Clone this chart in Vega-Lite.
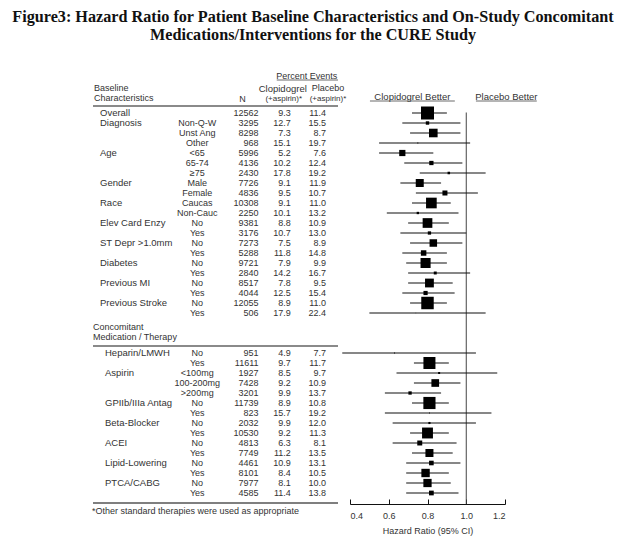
{
"$schema": "https://vega.github.io/schema/vega-lite/v6.json",
"autosize": {"type": "none"},
"padding": {"left": 93, "top": 60, "right": 0, "bottom": 46},
"width": 533,
"height": 444,
"background": "white",
"title": {"text": ["Figure3: Hazard Ratio for Patient Baseline Characteristics and On-Study Concomitant", "Medications/Interventions for the CURE Study"], "font": "Liberation Serif", "fontSize": 16.2, "fontWeight": "bold", "color": "#111", "anchor": "middle", "frame": "group", "dx": -46.5, "offset": 17, "lineHeight": 18},
"datasets": {
"rows": [
{"row": 1, "section": "B", "characteristic": "Overall", "subgroup": "", "n": 12562, "clopidogrel": 9.3, "placebo": 11.4, "hr": 0.80, "lo": 0.72, "hi": 0.90},
{"row": 2, "section": "B", "characteristic": "Diagnosis", "subgroup": "Non-Q-W", "n": 3295, "clopidogrel": 12.7, "placebo": 15.5, "hr": 0.80, "lo": 0.67, "hi": 0.97},
{"row": 3, "section": "B", "characteristic": "", "subgroup": "Unst Ang", "n": 8298, "clopidogrel": 7.3, "placebo": 8.7, "hr": 0.83, "lo": 0.71, "hi": 0.97},
{"row": 4, "section": "B", "characteristic": "", "subgroup": "Other", "n": 968, "clopidogrel": 15.1, "placebo": 19.7, "hr": 0.75, "lo": 0.55, "hi": 1.02},
{"row": 5, "section": "B", "characteristic": "Age", "subgroup": "<65", "n": 5996, "clopidogrel": 5.2, "placebo": 7.6, "hr": 0.67, "lo": 0.55, "hi": 0.83},
{"row": 6, "section": "B", "characteristic": "", "subgroup": "65-74", "n": 4136, "clopidogrel": 10.2, "placebo": 12.4, "hr": 0.82, "lo": 0.68, "hi": 0.98},
{"row": 7, "section": "B", "characteristic": "", "subgroup": "≥75", "n": 2430, "clopidogrel": 17.8, "placebo": 19.2, "hr": 0.91, "lo": 0.76, "hi": 1.10},
{"row": 8, "section": "B", "characteristic": "Gender", "subgroup": "Male", "n": 7726, "clopidogrel": 9.1, "placebo": 11.9, "hr": 0.76, "lo": 0.66, "hi": 0.87},
{"row": 9, "section": "B", "characteristic": "", "subgroup": "Female", "n": 4836, "clopidogrel": 9.5, "placebo": 10.7, "hr": 0.89, "lo": 0.74, "hi": 1.06},
{"row": 10, "section": "B", "characteristic": "Race", "subgroup": "Caucas", "n": 10308, "clopidogrel": 9.1, "placebo": 11.0, "hr": 0.82, "lo": 0.72, "hi": 0.92},
{"row": 11, "section": "B", "characteristic": "", "subgroup": "Non-Cauc", "n": 2250, "clopidogrel": 10.1, "placebo": 13.2, "hr": 0.75, "lo": 0.59, "hi": 0.96},
{"row": 12, "section": "B", "characteristic": "Elev Card Enzy", "subgroup": "No", "n": 9381, "clopidogrel": 8.8, "placebo": 10.9, "hr": 0.80, "lo": 0.70, "hi": 0.91},
{"row": 13, "section": "B", "characteristic": "", "subgroup": "Yes", "n": 3176, "clopidogrel": 10.7, "placebo": 13.0, "hr": 0.81, "lo": 0.66, "hi": 1.00},
{"row": 14, "section": "B", "characteristic": "ST Depr >1.0mm", "subgroup": "No", "n": 7273, "clopidogrel": 7.5, "placebo": 8.9, "hr": 0.83, "lo": 0.71, "hi": 0.98},
{"row": 15, "section": "B", "characteristic": "", "subgroup": "Yes", "n": 5288, "clopidogrel": 11.8, "placebo": 14.8, "hr": 0.78, "lo": 0.67, "hi": 0.90},
{"row": 16, "section": "B", "characteristic": "Diabetes", "subgroup": "No", "n": 9721, "clopidogrel": 7.9, "placebo": 9.9, "hr": 0.79, "lo": 0.69, "hi": 0.90},
{"row": 17, "section": "B", "characteristic": "", "subgroup": "Yes", "n": 2840, "clopidogrel": 14.2, "placebo": 16.7, "hr": 0.84, "lo": 0.70, "hi": 1.02},
{"row": 18, "section": "B", "characteristic": "Previous MI", "subgroup": "No", "n": 8517, "clopidogrel": 7.8, "placebo": 9.5, "hr": 0.81, "lo": 0.70, "hi": 0.93},
{"row": 19, "section": "B", "characteristic": "", "subgroup": "Yes", "n": 4044, "clopidogrel": 12.5, "placebo": 15.4, "hr": 0.79, "lo": 0.67, "hi": 0.94},
{"row": 20, "section": "B", "characteristic": "Previous Stroke", "subgroup": "No", "n": 12055, "clopidogrel": 8.9, "placebo": 11.0, "hr": 0.80, "lo": 0.71, "hi": 0.90},
{"row": 21, "section": "B", "characteristic": "", "subgroup": "Yes", "n": 506, "clopidogrel": 17.9, "placebo": 22.4, "hr": 0.74, "lo": 0.50, "hi": 1.10},
{"row": 25, "section": "C", "characteristic": "Heparin/LMWH", "subgroup": "No", "n": 951, "clopidogrel": 4.9, "placebo": 7.7, "hr": 0.63, "lo": 0.36, "hi": 1.05},
{"row": 26, "section": "C", "characteristic": "", "subgroup": "Yes", "n": 11611, "clopidogrel": 9.7, "placebo": 11.7, "hr": 0.81, "lo": 0.73, "hi": 0.91},
{"row": 27, "section": "C", "characteristic": "Aspirin", "subgroup": "<100mg", "n": 1927, "clopidogrel": 8.5, "placebo": 9.7, "hr": 0.86, "lo": 0.64, "hi": 1.16},
{"row": 28, "section": "C", "characteristic": "", "subgroup": "100-200mg", "n": 7428, "clopidogrel": 9.2, "placebo": 10.9, "hr": 0.84, "lo": 0.73, "hi": 0.97},
{"row": 29, "section": "C", "characteristic": "", "subgroup": ">200mg", "n": 3201, "clopidogrel": 9.9, "placebo": 13.7, "hr": 0.71, "lo": 0.58, "hi": 0.87},
{"row": 30, "section": "C", "characteristic": "GPIIb/IIIa Antag", "subgroup": "No", "n": 11739, "clopidogrel": 8.9, "placebo": 10.8, "hr": 0.81, "lo": 0.72, "hi": 0.91},
{"row": 31, "section": "C", "characteristic": "", "subgroup": "Yes", "n": 823, "clopidogrel": 15.7, "placebo": 19.2, "hr": 0.81, "lo": 0.58, "hi": 1.13},
{"row": 32, "section": "C", "characteristic": "Beta-Blocker", "subgroup": "No", "n": 2032, "clopidogrel": 9.9, "placebo": 12.0, "hr": 0.81, "lo": 0.62, "hi": 1.05},
{"row": 33, "section": "C", "characteristic": "", "subgroup": "Yes", "n": 10530, "clopidogrel": 9.2, "placebo": 11.3, "hr": 0.80, "lo": 0.71, "hi": 0.91},
{"row": 34, "section": "C", "characteristic": "ACEI", "subgroup": "No", "n": 4813, "clopidogrel": 6.3, "placebo": 8.1, "hr": 0.76, "lo": 0.62, "hi": 0.95},
{"row": 35, "section": "C", "characteristic": "", "subgroup": "Yes", "n": 7749, "clopidogrel": 11.2, "placebo": 13.5, "hr": 0.81, "lo": 0.72, "hi": 0.93},
{"row": 36, "section": "C", "characteristic": "Lipid-Lowering", "subgroup": "No", "n": 4461, "clopidogrel": 10.9, "placebo": 13.1, "hr": 0.82, "lo": 0.69, "hi": 0.97},
{"row": 37, "section": "C", "characteristic": "", "subgroup": "Yes", "n": 8101, "clopidogrel": 8.4, "placebo": 10.5, "hr": 0.79, "lo": 0.69, "hi": 0.91},
{"row": 38, "section": "C", "characteristic": "PTCA/CABG", "subgroup": "No", "n": 7977, "clopidogrel": 8.1, "placebo": 10.0, "hr": 0.80, "lo": 0.69, "hi": 0.92},
{"row": 39, "section": "C", "characteristic": "", "subgroup": "Yes", "n": 4585, "clopidogrel": 11.4, "placebo": 13.8, "hr": 0.82, "lo": 0.69, "hi": 0.96}
]
},
"resolve": {"scale": {"x": "independent"}, "axis": {"x": "independent"}},
"layer": [
{
"layer": [
{"data": {"values": [{}]}, "mark": {"type": "rule", "color": "#8a8a8a", "strokeWidth": 2}, "encoding": {"x": {"datum": "Characteristic", "type": "nominal", "scale": {"type": "point", "domain": ["Characteristic", "Subgroup", "N", "Clopidogrel", "Placebo"], "range": [0, 245], "padding": 0}, "axis": null}, "x2": {"datum": "Placebo"}, "y": {"datum": 0.3, "type": "quantitative", "scale": {"domain": [-4.3, 40.1], "reverse": true, "nice": false, "zero": false}, "axis": null}}},
{"data": {"values": [{}]}, "mark": {"type": "rule", "color": "#8a8a8a", "strokeWidth": 2}, "encoding": {"x": {"datum": "Characteristic", "type": "nominal"}, "x2": {"datum": "Placebo"}, "y": {"datum": 24.3, "type": "quantitative"}}},
{"data": {"values": [{}]}, "mark": {"type": "rule", "color": "#555", "strokeWidth": 1.5}, "encoding": {"x": {"datum": "Characteristic", "type": "nominal"}, "x2": {"datum": "Placebo"}, "y": {"datum": 40, "type": "quantitative"}}},
{"data": {"values": [{}]}, "mark": {"type": "rule", "color": "#444", "strokeWidth": 0.8}, "encoding": {"x": {"datum": "Clopidogrel", "type": "nominal"}, "x2": {"datum": "Placebo"}, "y": {"datum": -2.3, "type": "quantitative"}}},
{"data": {"values": [{}]}, "mark": {"type": "text", "text": "Percent Events", "align": "center", "dx": 30}, "encoding": {"x": {"datum": "Clopidogrel", "type": "nominal"}, "y": {"datum": -2.7, "type": "quantitative"}}},
{"data": {"values": [{}]}, "mark": {"type": "text", "text": "Clopidogrel", "align": "center", "dx": 6, "fontSize": 9.5}, "encoding": {"x": {"datum": "Clopidogrel", "type": "nominal"}, "y": {"datum": -1.45, "type": "quantitative"}}},
{"data": {"values": [{}]}, "mark": {"type": "text", "text": "(+aspirin)*", "align": "center", "dx": 7, "fontSize": 8}, "encoding": {"x": {"datum": "Clopidogrel", "type": "nominal"}, "y": {"datum": -0.4, "type": "quantitative"}}},
{"data": {"values": [{}]}, "mark": {"type": "text", "text": "Placebo", "align": "center", "dx": -10}, "encoding": {"x": {"datum": "Placebo", "type": "nominal"}, "y": {"datum": -1.5, "type": "quantitative"}}},
{"data": {"values": [{}]}, "mark": {"type": "text", "text": "(+aspirin)*", "align": "center", "dx": -10, "fontSize": 8}, "encoding": {"x": {"datum": "Placebo", "type": "nominal"}, "y": {"datum": -0.4, "type": "quantitative"}}},
{"data": {"values": [{}]}, "mark": {"type": "text", "text": "N", "align": "center", "dx": 27}, "encoding": {"x": {"datum": "N", "type": "nominal"}, "y": {"datum": -0.4, "type": "quantitative"}}},
{"data": {"values": [{}]}, "mark": {"type": "text", "text": "Baseline", "align": "left", "dx": 1}, "encoding": {"x": {"datum": "Characteristic", "type": "nominal"}, "y": {"datum": -1.5, "type": "quantitative"}}},
{"data": {"values": [{}]}, "mark": {"type": "text", "text": "Characteristics", "align": "left", "dx": 1}, "encoding": {"x": {"datum": "Characteristic", "type": "nominal"}, "y": {"datum": -0.5, "type": "quantitative"}}},
{"data": {"values": [{}]}, "mark": {"type": "text", "text": "Concomitant", "align": "left", "dx": 0}, "encoding": {"x": {"datum": "Characteristic", "type": "nominal"}, "y": {"datum": 22.4, "type": "quantitative"}}},
{"data": {"values": [{}]}, "mark": {"type": "text", "text": "Medication / Therapy", "align": "left", "dx": 0}, "encoding": {"x": {"datum": "Characteristic", "type": "nominal"}, "y": {"datum": 23.4, "type": "quantitative"}}},
{"data": {"values": [{}]}, "mark": {"type": "text", "text": "*Other standard therapies were used as appropriate", "align": "left", "dx": -1}, "encoding": {"x": {"datum": "Characteristic", "type": "nominal"}, "y": {"datum": 40.8, "type": "quantitative"}}},
{"data": {"name": "rows"}, "transform": [{"filter": "datum.section == 'B'"}], "mark": {"type": "text", "align": "left", "dx": 7, "fontSize": 9.5}, "encoding": {"x": {"datum": "Characteristic", "type": "nominal"}, "y": {"field": "row", "type": "quantitative"}, "text": {"field": "characteristic"}}},
{"data": {"name": "rows"}, "transform": [{"filter": "datum.section == 'C'"}], "mark": {"type": "text", "align": "left", "dx": 12, "fontSize": 9.5}, "encoding": {"x": {"datum": "Characteristic", "type": "nominal"}, "y": {"field": "row", "type": "quantitative"}, "text": {"field": "characteristic"}}},
{"data": {"name": "rows"}, "mark": {"type": "text", "align": "center", "dx": 43}, "encoding": {"x": {"datum": "Subgroup", "type": "nominal"}, "y": {"field": "row", "type": "quantitative"}, "text": {"field": "subgroup"}}},
{"data": {"name": "rows"}, "mark": {"type": "text", "align": "right", "dx": 43}, "encoding": {"x": {"datum": "N", "type": "nominal"}, "y": {"field": "row", "type": "quantitative"}, "text": {"field": "n", "type": "quantitative", "format": "d"}}},
{"data": {"name": "rows"}, "mark": {"type": "text", "align": "right", "dx": 14}, "encoding": {"x": {"datum": "Clopidogrel", "type": "nominal"}, "y": {"field": "row", "type": "quantitative"}, "text": {"field": "clopidogrel", "type": "quantitative", "format": ".1f"}}},
{"data": {"name": "rows"}, "mark": {"type": "text", "align": "right", "dx": -12}, "encoding": {"x": {"datum": "Placebo", "type": "nominal"}, "y": {"field": "row", "type": "quantitative"}, "text": {"field": "placebo", "type": "quantitative", "format": ".1f"}}}
]
},
{
"layer": [
{"data": {"values": [{}]}, "mark": {"type": "rule", "color": "#444", "strokeWidth": 1}, "encoding": {"x": {"datum": 1, "type": "quantitative", "scale": {"domain": [0.4, 1.2], "range": [257, 412], "nice": false, "zero": false}, "axis": {"orient": "bottom", "values": [0.4, 0.6, 0.8, 1.0, 1.2], "format": ".1f", "title": "Hazard Ratio (95% CI)", "tickSize": -5, "labelPadding": 12, "titlePadding": 6}}, "y": {"datum": 0.95, "type": "quantitative"}, "y2": {"datum": 40.1}}},
{"data": {"name": "rows"}, "mark": {"type": "rule", "color": "#111", "strokeWidth": 1.2}, "encoding": {"x": {"field": "lo", "type": "quantitative", "title": "Hazard Ratio (95% CI)"}, "x2": {"field": "hi"}, "y": {"field": "row", "type": "quantitative"}}},
{"data": {"name": "rows"}, "mark": {"type": "point", "shape": "square", "filled": true, "color": "#000", "opacity": 1}, "encoding": {"x": {"field": "hr", "type": "quantitative", "title": "Hazard Ratio (95% CI)"}, "y": {"field": "row", "type": "quantitative"}, "size": {"field": "n", "type": "quantitative", "scale": {"type": "pow", "exponent": 2, "domain": [0, 12562], "range": [0, 169]}, "legend": null}}},
{"data": {"values": [{}]}, "mark": {"type": "text", "text": "Clopidogrel Better", "align": "center", "fontSize": 9.5}, "encoding": {"x": {"datum": 0.722, "type": "quantitative", "title": "Hazard Ratio (95% CI)"}, "y": {"datum": -0.6, "type": "quantitative"}}},
{"data": {"values": [{}]}, "mark": {"type": "rule", "color": "#444", "strokeWidth": 0.8}, "encoding": {"x": {"datum": 0.503, "type": "quantitative", "title": "Hazard Ratio (95% CI)"}, "x2": {"datum": 0.941}, "y": {"datum": -0.2, "type": "quantitative"}}},
{"data": {"values": [{}]}, "mark": {"type": "text", "text": "Placebo Better", "align": "center", "fontSize": 9.5}, "encoding": {"x": {"datum": 1.207, "type": "quantitative", "title": "Hazard Ratio (95% CI)"}, "y": {"datum": -0.6, "type": "quantitative"}}},
{"data": {"values": [{}]}, "mark": {"type": "rule", "color": "#444", "strokeWidth": 0.8}, "encoding": {"x": {"datum": 1.05, "type": "quantitative", "title": "Hazard Ratio (95% CI)"}, "x2": {"datum": 1.364}, "y": {"datum": -0.2, "type": "quantitative"}}}
]
}
],
"config": {
"view": {"stroke": null},
"text": {"font": "Liberation Sans", "fontSize": 9, "color": "#333", "baseline": "middle"},
"axis": {"domainColor": "#111", "tickColor": "#111", "labelFont": "Liberation Sans", "labelFontSize": 9, "labelColor": "#333", "titleFont": "Liberation Sans", "titleFontSize": 9, "titleFontWeight": "normal", "titleColor": "#333", "grid": false}
}
}
